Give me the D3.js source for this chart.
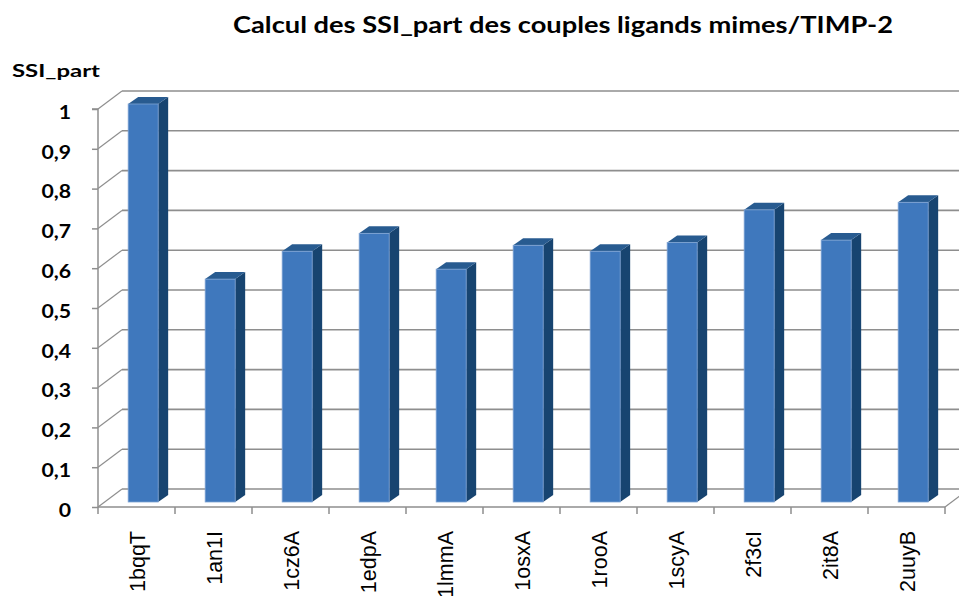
<!DOCTYPE html>
<html>
<head>
<meta charset="utf-8">
<script src="https://cdn.jsdelivr.net/npm/d3@7"></script>
<style>
  html, body { margin: 0; padding: 0; background: #fff; overflow: hidden; }
  svg { display: block; }
</style>
</head>
<body>
<svg id="chart" width="959" height="596"></svg>
<script>
// Structures (PDB chain ids) and their SSI_part score with TIMP-2
const categories = ["1bqqT", "1an1I", "1cz6A", "1edpA", "1lmmA", "1osxA", "1rooA", "1scyA", "2f3cI", "2it8A", "2uuyB"];
const ssiPart = [1.0, 0.56, 0.63, 0.675, 0.585, 0.645, 0.63, 0.652, 0.734, 0.658, 0.753];
const yTicks = [0, 0.1, 0.2, 0.3, 0.4, 0.5, 0.6, 0.7, 0.8, 0.9, 1];
const chartTitle = "Calcul des SSI_part des couples ligands mimes/TIMP-2";
const yAxisTitle = "SSI_part";

const svg = d3.select("#chart");
const W = 959, H = 596;

// pseudo-3D geometry: the back wall sits up and to the right of the front plane
const depthX = 24, depthY = -18;
const barDepthFrac = 5 / 18;        // bars stand slightly behind the front edge
const barSideX = 10, barSideY = -7; // thickness of each bar

const x = d3.scaleBand().domain(categories).range([98, 945]).paddingInner(0).paddingOuter(0);
const y = d3.scaleLinear().domain([0, 1]).range([507, 109]);

const frFormat = d3.formatLocale({ decimal: ",", thousands: " ", grouping: [3], currency: ["", " €"] }).format("~g");

const gridColor = "#8e8e8e";

// back wall gridlines + side-wall diagonals
const grid = svg.append("g");
yTicks.forEach(t => {
  const yf = y(t), yb = y(t) + depthY;
  grid.append("line")
    .attr("x1", x.range()[0] + depthX).attr("x2", W + 5)
    .attr("y1", yb).attr("y2", yb)
    .attr("stroke", gridColor).attr("stroke-width", 1.6);
  grid.append("line")
    .attr("x1", x.range()[0]).attr("y1", yf)
    .attr("x2", x.range()[0] + depthX).attr("y2", yb)
    .attr("stroke", gridColor).attr("stroke-width", 1.2);
});
// right floor edge
grid.append("line")
  .attr("x1", x.range()[1]).attr("y1", y(0))
  .attr("x2", x.range()[1] + depthX).attr("y2", y(0) + depthY)
  .attr("stroke", gridColor).attr("stroke-width", 1.2);

// front y axis
const yAxis = d3.axisLeft(y).tickValues(yTicks).tickSize(6).tickPadding(21).tickFormat(frFormat);
const yg = svg.append("g").attr("transform", `translate(${x.range()[0]},0)`).call(yAxis);
yg.select(".domain").attr("stroke", gridColor).attr("stroke-width", 1.5)
  .attr("d", `M-6,${y(1)}H0V${y(0)}`);
yg.selectAll(".tick line").attr("stroke", gridColor).attr("stroke-width", 1.5);
yg.selectAll(".tick text")
  .attr("fill", "#000")
  .attr("font-family", "Lato, 'Open Sans', sans-serif")
  .attr("font-weight", "bold")
  .attr("font-size", 18)
  .attr("dy", "0.52em")
  .attr("transform", function () {
    const tx = +d3.select(this).attr("x");
    return `translate(${tx},0) scale(1.18,1) translate(${-tx},0)`;
  });

// x axis line with ticks at category boundaries
const xg = svg.append("g");
xg.append("line")
  .attr("x1", x.range()[0]).attr("x2", x.range()[1])
  .attr("y1", y(0)).attr("y2", y(0))
  .attr("stroke", gridColor).attr("stroke-width", 1.5);
const boundaries = categories.map(c => x(c)).concat([x.range()[1]]);
xg.selectAll("line.tk").data(boundaries).join("line")
  .attr("class", "tk")
  .attr("x1", d => d).attr("x2", d => d)
  .attr("y1", y(0)).attr("y2", y(0) + 7)
  .attr("stroke", gridColor).attr("stroke-width", 1.5);

// category labels, rotated
xg.selectAll("text.cat").data(categories).join("text")
  .attr("class", "cat")
  .attr("transform", d => `translate(${x(d) + x.bandwidth() / 2 + 8},531) rotate(-90)`)
  .attr("text-anchor", "end")
  .attr("font-family", "'Liberation Sans', Arial, sans-serif")
  .attr("font-size", 21.5)
  .attr("fill", "#000")
  .text(d => d);

// bars
const barW = 30;
const offX = depthX * barDepthFrac, offY = depthY * barDepthFrac;
const bars = svg.append("g").selectAll("g.bar")
  .data(categories.map((c, i) => ({ c, v: ssiPart[i] })))
  .join("g").attr("class", "bar");

const bx0 = d => x(d.c) + (x.bandwidth() - barW) / 2 + offX;
const bx1 = d => bx0(d) + barW;
const byTop = d => y(d.v) + offY;
const byBot = () => y(0) + offY;

// side face
bars.append("path")
  .attr("d", d => `M${bx1(d)},${byTop(d)}L${bx1(d) + barSideX},${byTop(d) + barSideY}L${bx1(d) + barSideX},${byBot() + barSideY}L${bx1(d)},${byBot()}Z`)
  .attr("fill", "#174470");
// top face
bars.append("path")
  .attr("d", d => `M${bx0(d)},${byTop(d)}L${bx0(d) + barSideX},${byTop(d) + barSideY}L${bx1(d) + barSideX},${byTop(d) + barSideY}L${bx1(d)},${byTop(d)}Z`)
  .attr("fill", "#285b90");
// front face
bars.append("rect")
  .attr("x", bx0).attr("y", byTop)
  .attr("width", barW).attr("height", d => byBot() - byTop(d))
  .attr("fill", "#3f78bd")
  .attr("stroke", "#7ea3d3").attr("stroke-width", 0.8);

// titles
svg.append("text")
  .attr("x", 233).attr("y", 33)
  .attr("textLength", 660).attr("lengthAdjust", "spacingAndGlyphs")
  .attr("font-family", "Lato, 'Open Sans', sans-serif")
  .attr("font-weight", "bold").attr("font-size", 23.5)
  .attr("fill", "#000")
  .text(chartTitle);

svg.append("text")
  .attr("x", 12).attr("y", 77)
  .attr("textLength", 88).attr("lengthAdjust", "spacingAndGlyphs")
  .attr("font-family", "Lato, 'Open Sans', sans-serif")
  .attr("font-weight", "bold").attr("font-size", 16.5)
  .attr("fill", "#000")
  .text(yAxisTitle);
</script>
</body>
</html>
